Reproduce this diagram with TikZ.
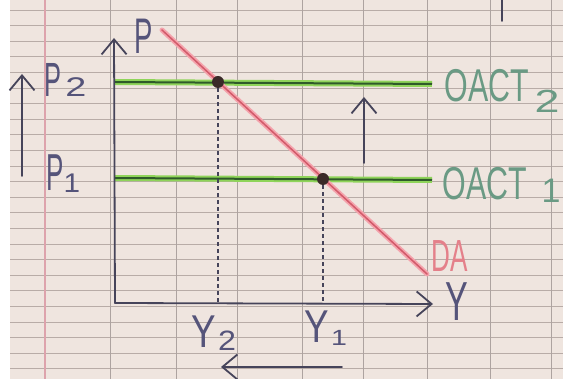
\documentclass[tikz,border=0pt]{standalone}
\usepackage{fontspec}
\setmainfont{Liberation Sans}
\usetikzlibrary{arrows.meta}
\newcommand{\hwtxt}[2]{\scalebox{#1}[1]{#2}}
\definecolor{paper}{HTML}{EFE5DF}
\definecolor{gridc}{HTML}{B8ACA7}
\definecolor{vgrid}{HTML}{ADA3A0}
\definecolor{margin}{HTML}{DDA3AC}
\definecolor{ink}{HTML}{46445A}
\definecolor{pen}{HTML}{55547A}
\definecolor{glight}{HTML}{8FD45A}
\definecolor{gdark}{HTML}{2F5A2A}
\definecolor{gtext}{HTML}{6A9A84}
\definecolor{rlight}{HTML}{F4A3AC}
\definecolor{rdark}{HTML}{D25A6A}
\definecolor{rtext}{HTML}{E4808A}
\definecolor{dotc}{HTML}{3A2A28}
\tikzset{
  hline/.style={gridc, line width=0.9pt},
  vline/.style={vgrid, line width=1pt},
  inkline/.style={ink, line width=1.8pt, line cap=round},
  handarrow/.style={inkline, -{Straight Barb[length=15pt,width=25pt,line width=1.8pt]}},
  greenglow/.style={glight, line width=6pt},
  greencore/.style={gdark, line width=2pt},
  redglow/.style={rlight, line width=5pt},
  redcore/.style={rdark, line width=1.5pt},
  dotnode/.style={circle, fill=dotc, minimum size=12pt, inner sep=0pt},
  guide/.style={ink, line width=1.6pt, dash pattern=on 4pt off 3pt},
  lbl/.style={inner sep=0pt, text=pen},
  glbl/.style={inner sep=0pt, text=gtext},
  rlbl/.style={inner sep=0pt, text=rtext}
}
\begin{document}
\begin{tikzpicture}[x=1pt,y=-1pt]
\fill[paper] (0,0) rectangle (563,379);
\useasboundingbox (0,0) rectangle (563,379);
% graph paper
\foreach \yy in {10,25.6,...,379} \draw[hline] (10,\yy) -- (563,\yy);
\foreach \xx in {110,176,237,302,363,427,490,551} \draw[vline] (\xx,0) -- (\xx,379);
\draw[margin, line width=1.2pt] (45,0) -- (45,379);
\fill[white] (0,0) rectangle (10,379);

% coordinates
\coordinate (O) at (115,303);
\coordinate (ytop) at (114,38);
\coordinate (xend) at (433,304);
\coordinate (g2a) at (115,82);
\coordinate (g2b) at (432,84);
\coordinate (g1a) at (115,178);
\coordinate (g1b) at (432,180);
\coordinate (ra) at (162,30);
\coordinate (rb) at (427,274);
\coordinate (la1) at (22,176);
\coordinate (la2) at (22,74);
\coordinate (ma1) at (364,163);
\coordinate (ma2) at (364,97);
\coordinate (ba1) at (342,367);
\coordinate (ba2) at (221,367);
\coordinate (tr1) at (502,0);
\coordinate (tr2) at (502,21);

% supply lines
\draw[greenglow] (g2a) -- (g2b);
\draw[greencore] (g2a) -- (g2b);
\draw[greenglow] (g1a) -- (g1b);
\draw[greencore] (g1a) -- (g1b);

% demand line
\draw[redglow, line cap=round] (ra) -- (rb);
\draw[redcore, line cap=round] (ra) -- (rb);

% axes
\draw[handarrow] (O) -- (ytop);
\draw[handarrow] (O) -- (xend);

% equilibrium points
\node[dotnode] (E2) at (218,82) {};
\node[dotnode] (E1) at (323,179) {};
\draw[guide] (E2.south) -- (E2.center |- O);
\draw[guide] (E1.south) -- (E1.center |- O);

% shift arrows
\draw[handarrow] (la1) -- (la2);
\draw[handarrow] (ma1) -- (ma2);
\draw[handarrow] (ba1) -- (ba2);
\draw[inkline] (tr1) -- (tr2);

% labels
\node[lbl] (lP) at (144,36) {\fontsize{50}{50}\selectfont\hwtxt{0.55}{P}};
\node[lbl] (lP2) at (53,80) {\fontsize{48}{48}\selectfont\hwtxt{0.53}{P}};
\node[lbl] (lP2s) at (76,87) {\fontsize{27}{27}\selectfont\hwtxt{1.4}{2}};
\node[lbl] (lP1) at (55,173) {\fontsize{52}{52}\selectfont\hwtxt{0.5}{P}};
\node[lbl] (lP1s) at (72,183) {\fontsize{27}{27}\selectfont\hwtxt{1.1}{1}};
\node[glbl] (lO2) at (487,86) {\fontsize{46}{46}\selectfont\hwtxt{0.66}{OACT}};
\node[glbl] (lO2s) at (547,101) {\fontsize{32}{32}\selectfont\hwtxt{1.4}{2}};
\node[glbl] (lO1) at (485,184) {\fontsize{46}{46}\selectfont\hwtxt{0.66}{OACT}};
\node[glbl] (lO1s) at (551,191) {\fontsize{34}{34}\selectfont\hwtxt{1.0}{1}};
\node[rlbl] (lDA) at (450,256) {\fontsize{45}{45}\selectfont\hwtxt{0.58}{DA}};
\node[lbl] (lY) at (457,302) {\fontsize{55}{55}\selectfont\hwtxt{0.62}{Y}};
\node[lbl] (lY2) at (204,332) {\fontsize{46}{46}\selectfont\hwtxt{0.8}{Y}};
\node[lbl] (lY2s) at (227,341) {\fontsize{28}{28}\selectfont\hwtxt{1.15}{2}};
\node[lbl] (lY1) at (317,327) {\fontsize{46}{46}\selectfont\hwtxt{0.8}{Y}};
\node[lbl] (lY1s) at (339,338) {\fontsize{22}{22}\selectfont\hwtxt{1.3}{1}};
\end{tikzpicture}
\end{document}
